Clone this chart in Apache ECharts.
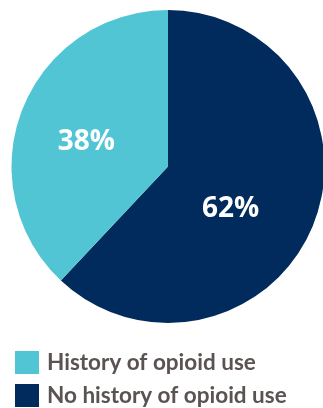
<!DOCTYPE html>
<html>
<head>
<meta charset="utf-8">
<script src="https://cdn.jsdelivr.net/npm/echarts@6/dist/echarts.min.js"></script>
<style>
  html, body { margin: 0; padding: 0; background: #fff; }
  #chart { width: 323px; height: 408px; }
</style>
</head>
<body>
<div id="chart"></div>
<script>
// slice values, in drawing order (clockwise from 12 o'clock)
const categories = ['No history of opioid use', 'History of opioid use'];
const shares = [62, 38];
const colors = ['#002b5c', '#52c5d4'];
const legendOrder = ['History of opioid use', 'No history of opioid use'];
// label nudges so the numbers sit where the original has them
const labelOffsets = [[-13, 13], [-6, 5]];

const chart = echarts.init(document.getElementById('chart'), null, { renderer: 'canvas' });

const option = {
    animation: false,
    color: colors,
    legend: {
        data: legendOrder,
        orient: 'vertical',
        left: 15,
        top: 351,
        padding: 0,
        icon: 'rect',
        itemWidth: 24,
        itemHeight: 23,
        itemGap: 10,
        textStyle: {
            fontFamily: 'Lato',
            fontWeight: 'bold',
            fontSize: 22.5,
            color: '#5b5252',
            padding: [0, 0, 0, 3],
        },
    },
    series: [
        {
            type: 'pie',
            center: [168, 166.5],
            radius: [0, 156.5],
            startAngle: 90,
            clockwise: true,
            silent: true,
            itemStyle: { borderWidth: 0 },
            label: {
                show: true,
                position: 'inside',
                formatter: '{c}%',
                color: '#fff',
                fontFamily: 'Open Sans',
                fontWeight: 'bold',
                fontSize: 28,
            },
            labelLine: { show: false },
            data: categories.map((name, i) => ({
                name: name,
                value: shares[i],
                label: { offset: labelOffsets[i] },
            })),
        },
    ],
};

chart.setOption(option);
</script>
</body>
</html>
